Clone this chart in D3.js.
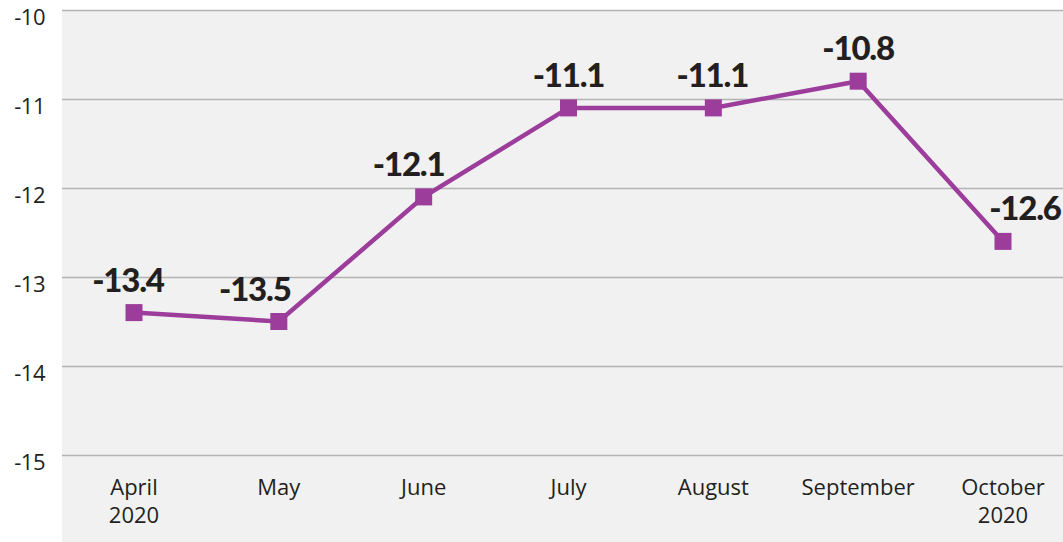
<!DOCTYPE html>
<html><head><meta charset="utf-8">
<script src="https://cdn.jsdelivr.net/npm/d3@7"></script>
<style>body{margin:0;background:#fff;}svg{display:block;}</style>
</head><body>
<svg id="c" width="1063" height="542"></svg>
<script>
const categories = [["April","2020"],["May"],["June"],["July"],["August"],["September"],["October","2020"]];
const values = [-13.4,-13.5,-12.1,-11.1,-11.1,-10.8,-12.6];
const yTicks = [-10,-11,-12,-13,-14,-15];
const labelDx = [-6,-24,-15,0,-1,0,22];

const svg = d3.select("#c");
const W = 1063, H = 542;
const left = 62;
const x = d3.scalePoint().domain(d3.range(categories.length)).range([134,1003]);
const y = d3.scaleLinear().domain([-15,-10]).range([455,10]);

svg.append("rect").attr("x",left).attr("y",10).attr("width",W-left).attr("height",H-10).attr("fill","#f1f1f1");

const ya = svg.append("g").attr("transform",`translate(${left},0)`)
  .call(d3.axisLeft(y).tickValues(yTicks).tickSize(-(W-left)).tickFormat(d=>d3.format("d")(d).replace("−","-")).tickPadding(17));
ya.select(".domain").remove();
ya.selectAll(".tick line").attr("stroke","#b3b3b3").attr("stroke-width",1.6);
ya.selectAll(".tick text").attr("font-family","'Open Sans', sans-serif").attr("font-size",22).attr("fill","#231f20").attr("dy","0.68em").attr("letter-spacing",-0.5);

const xl = svg.append("g");
categories.forEach((c,i)=>{
  const t = xl.append("text").attr("x",x(i)).attr("y",495).attr("text-anchor","middle")
    .attr("font-family","'Open Sans', sans-serif").attr("font-size",22).attr("fill","#231f20");
  c.forEach((s,j)=>t.append("tspan").attr("x",x(i)).attr("dy",j?28:0).text(s));
});

const line = d3.line().x((d,i)=>x(i)).y(d=>y(d));
svg.append("path").datum(values).attr("d",line).attr("fill","none").attr("stroke","#9c3d9c").attr("stroke-width",4.5).attr("stroke-linejoin","miter");

svg.selectAll("rect.m").data(values).join("rect").attr("class","m")
  .attr("x",(d,i)=>x(i)-8.5).attr("y",d=>y(d)-8.5).attr("width",17).attr("height",17).attr("fill","#9c3d9c");

svg.selectAll("text.v").data(values).join("text").attr("class","v")
  .attr("x",(d,i)=>x(i)+labelDx[i]).attr("y",d=>y(d)-21).attr("text-anchor","middle")
  .attr("font-family","Lato, sans-serif").attr("font-weight",900).attr("font-size",33).attr("letter-spacing",-1.2)
  .attr("fill","#231f20").text(d=>d3.format(".1f")(d).replace("−","-"));
</script>
</body></html>
